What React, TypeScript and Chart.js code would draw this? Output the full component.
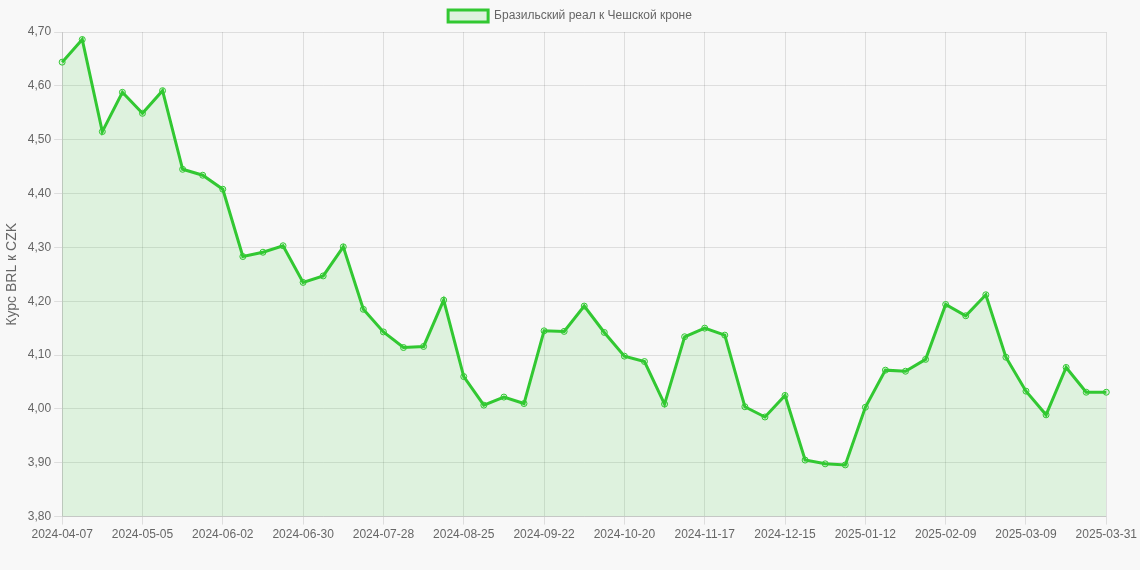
import React, { useEffect, useRef } from "react";
import { Chart, registerables } from "chart.js";

Chart.register(...registerables);

const labels: string[] = [
  "2024-04-07", "2024-04-14", "2024-04-21", "2024-04-28",
  "2024-05-05", "2024-05-12", "2024-05-19", "2024-05-26",
  "2024-06-02", "2024-06-09", "2024-06-16", "2024-06-23",
  "2024-06-30", "2024-07-07", "2024-07-14", "2024-07-21",
  "2024-07-28", "2024-08-04", "2024-08-11", "2024-08-18",
  "2024-08-25", "2024-09-01", "2024-09-08", "2024-09-15",
  "2024-09-22", "2024-09-29", "2024-10-06", "2024-10-13",
  "2024-10-20", "2024-10-27", "2024-11-03", "2024-11-10",
  "2024-11-17", "2024-11-24", "2024-12-01", "2024-12-08",
  "2024-12-15", "2024-12-22", "2024-12-29", "2025-01-05",
  "2025-01-12", "2025-01-19", "2025-01-26", "2025-02-02",
  "2025-02-09", "2025-02-16", "2025-02-23", "2025-03-02",
  "2025-03-09", "2025-03-16", "2025-03-23", "2025-03-30",
  "2025-03-31",
];

const rates: number[] = [
  4.644, 4.686, 4.515, 4.588, 4.549, 4.591, 4.445, 4.434,
  4.408, 4.283, 4.291, 4.303, 4.235, 4.247, 4.301, 4.185,
  4.143, 4.114, 4.116, 4.202, 4.060, 4.007, 4.022, 4.010,
  4.145, 4.144, 4.191, 4.142, 4.098, 4.088, 4.009, 4.134,
  4.150, 4.137, 4.004, 3.985, 4.025, 3.905, 3.898, 3.896,
  4.003, 4.072, 4.070, 4.092, 4.194, 4.173, 4.212, 4.096,
  4.033, 3.989, 4.077, 4.031, 4.031,
];

const seriesLabel = "Бразильский реал к Чешской кроне";
const yTitle = "Курс BRL к CZK";
const yMin = 3.8;
const yMax = 4.7;
const yStep = 0.1;
const labelEvery = 4;

export default function App() {
  const ref = useRef<HTMLCanvasElement | null>(null);

  useEffect(() => {
    document.body.style.margin = "0";
    document.body.style.background = "#f8f8f8";
    if (!ref.current) return;
    const font = "'Liberation Sans', Arial, sans-serif";
    const gridColor = "rgba(0,0,0,0.1)";
    const chart = new Chart(ref.current, {
      type: "line",
      data: {
        labels,
        datasets: [
          {
            label: seriesLabel,
            data: rates,
            borderColor: "rgb(50,200,50)",
            backgroundColor: "rgba(50,200,50,0.13)",
            borderWidth: 3,
            fill: true,
            tension: 0,
            pointRadius: 3,
            pointBorderWidth: 1,
            pointBackgroundColor: "rgba(50,200,50,0.13)",
            pointBorderColor: "rgb(50,200,50)",
          },
        ],
      },
      options: {
        animation: false,
        responsive: true,
        maintainAspectRatio: false,
        font: { family: font },
        plugins: {
          legend: {
            display: true,
            position: "top",
            labels: {
              color: "#666",
              font: { family: font, size: 12 },
              boxWidth: 40,
              boxHeight: 12,
            },
          },
          tooltip: { enabled: false },
        },
        scales: {
          x: {
            grid: {
              color: (ctx: any) =>
                ctx.index % labelEvery === 0 ? gridColor : "rgba(0,0,0,0)",
            },
            ticks: {
              color: "#666",
              font: { family: font, size: 12 },
              autoSkip: false,
              maxRotation: 0,
              callback: (_v: any, i: number) =>
                i % labelEvery === 0 ? labels[i] : "",
            },
          },
          y: {
            min: yMin,
            max: yMax,
            grid: { color: gridColor },
            ticks: {
              stepSize: yStep,
              color: "#666",
              font: { family: font, size: 12 },
              callback: (v: any) => Number(v).toFixed(2).replace(".", ","),
            },
            title: {
              display: true,
              text: yTitle,
              color: "#666",
              font: { family: font, size: 14 },
            },
          },
        },
      },
    });
    return () => chart.destroy();
  }, []);

  return (
    <div style={{ width: 1140, height: 545, position: "relative" }}>
      <canvas ref={ref} />
    </div>
  );
}
